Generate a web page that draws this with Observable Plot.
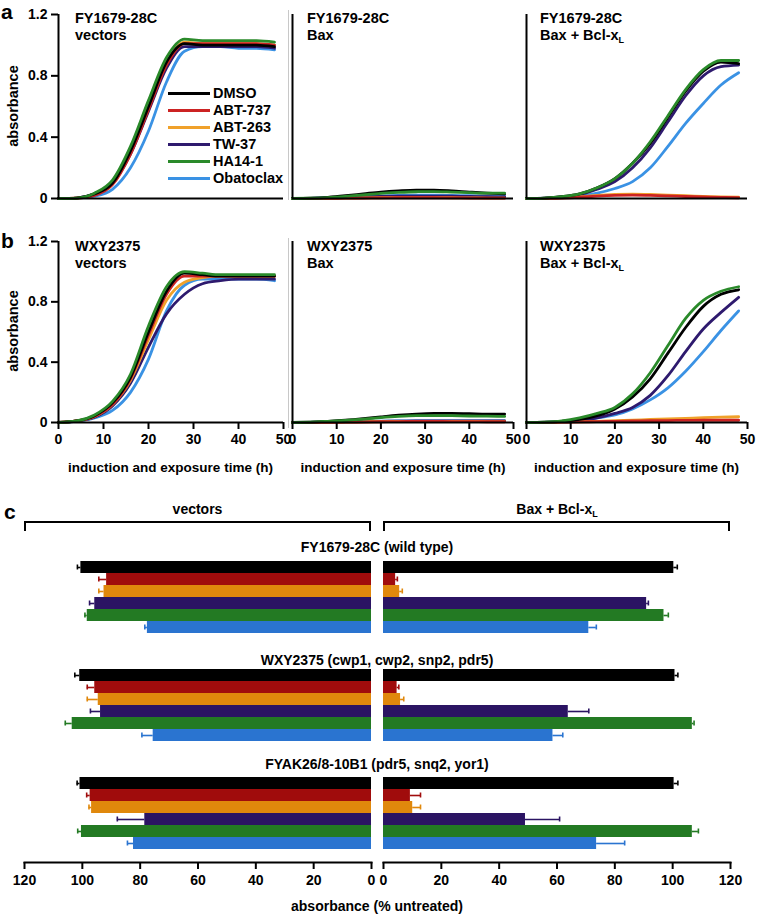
<!DOCTYPE html>
<html><head><meta charset="utf-8">
<script src="https://cdn.jsdelivr.net/npm/d3@7"></script>
<script src="https://cdn.jsdelivr.net/npm/@observablehq/plot@0.6"></script>
<style>
html,body{margin:0;padding:0;background:#fff;}
#root{position:relative;width:758px;height:917px;overflow:hidden;font-family:'Liberation Sans',Arial,Helvetica,sans-serif;font-weight:bold;color:#000;}
.t{position:absolute;white-space:nowrap;line-height:1;}
.t sub{font-size:9px;vertical-align:-3px;line-height:0;}
svg{position:absolute;}
</style></head><body><div id="root"></div>
<script>
// ---------- data ----------
const hours = [0,4,8,12,16,20,24,28,32,36,40,44,48];
const compounds = ["DMSO","ABT-737","ABT-263","TW-37","HA14-1","Obatoclax"];
const lineColors = ["#000000","#cc2323","#f0a12a","#2e1a6e","#2a8a2a","#3a92e4"];
const barColors  = ["#000000","#a00c0c","#e0880c","#2b1463","#237a23","#2a74d0"];
const drawOrder = ["Obatoclax","TW-37","ABT-263","ABT-737","DMSO","HA14-1"];

// growth curves (absorbance), rows in compounds order
const fyVectors = [
  [0,0.003,0.03,0.10,0.31,0.60,0.89,1.01,1.00,1.00,1.00,1.00,0.99],
  [0,0.002,0.02,0.09,0.29,0.58,0.87,1.01,1.01,1.01,1.01,1.01,1.00],
  [0,0.002,0.025,0.10,0.30,0.59,0.88,1.02,1.01,1.01,1.01,1.01,1.00],
  [0,0.003,0.03,0.10,0.29,0.57,0.85,0.99,0.99,0.99,0.99,0.99,0.98],
  [0,0.003,0.035,0.12,0.34,0.64,0.92,1.04,1.03,1.03,1.03,1.03,1.02],
  [0,0.002,0.015,0.06,0.20,0.44,0.76,0.96,0.99,0.99,0.98,0.98,0.97]
];
const fyBax = [
  [0,0.002,0.008,0.018,0.03,0.042,0.05,0.055,0.055,0.05,0.042,0.035,0.03],
  [0,0,0.001,0.002,0.003,0.004,0.005,0.005,0.005,0.004,0.003,0.003,0.002],
  [0,0,0.001,0.002,0.004,0.005,0.006,0.006,0.006,0.005,0.004,0.003,0.003],
  [0,0.001,0.003,0.006,0.01,0.013,0.015,0.016,0.016,0.015,0.013,0.012,0.01],
  [0,0.002,0.006,0.014,0.024,0.034,0.04,0.044,0.045,0.042,0.038,0.035,0.035],
  [0,0.001,0.004,0.008,0.013,0.017,0.02,0.022,0.022,0.02,0.018,0.016,0.015]
];
const fyBaxBcl = [
  [0,0.003,0.012,0.03,0.07,0.13,0.23,0.36,0.53,0.70,0.83,0.89,0.88],
  [0,0.001,0.003,0.008,0.015,0.02,0.022,0.02,0.017,0.013,0.01,0.007,0.005],
  [0,0.001,0.004,0.01,0.02,0.026,0.028,0.026,0.022,0.018,0.014,0.01,0.008],
  [0,0.002,0.01,0.025,0.06,0.11,0.20,0.33,0.50,0.67,0.80,0.86,0.87],
  [0,0.003,0.012,0.03,0.07,0.13,0.23,0.37,0.54,0.71,0.84,0.90,0.90],
  [0,0.001,0.005,0.015,0.035,0.065,0.11,0.20,0.34,0.49,0.62,0.74,0.82]
];
const wxyVectors = [
  [0,0.01,0.045,0.13,0.30,0.60,0.87,0.99,0.98,0.97,0.97,0.97,0.97],
  [0,0.01,0.04,0.12,0.29,0.58,0.85,0.97,0.97,0.97,0.97,0.97,0.97],
  [0,0.01,0.04,0.12,0.28,0.55,0.81,0.93,0.96,0.97,0.97,0.97,0.97],
  [0,0.01,0.035,0.11,0.26,0.50,0.72,0.85,0.92,0.94,0.95,0.95,0.95],
  [0,0.01,0.05,0.14,0.32,0.64,0.90,1.00,0.99,0.98,0.98,0.98,0.98],
  [0,0.008,0.03,0.08,0.20,0.42,0.74,0.91,0.95,0.95,0.95,0.95,0.94]
];
const wxyBax = [
  [0,0.003,0.008,0.015,0.025,0.037,0.048,0.056,0.06,0.06,0.058,0.056,0.056],
  [0,0,0.001,0.002,0.003,0.005,0.006,0.007,0.007,0.006,0.006,0.005,0.005],
  [0,0,0.001,0.002,0.004,0.006,0.007,0.008,0.008,0.007,0.007,0.006,0.006],
  [0,0.001,0.002,0.004,0.006,0.008,0.009,0.01,0.01,0.01,0.01,0.01,0.01],
  [0,0.003,0.008,0.014,0.022,0.032,0.04,0.045,0.046,0.045,0.043,0.042,0.04],
  [0,0.001,0.003,0.005,0.007,0.009,0.01,0.011,0.011,0.011,0.011,0.01,0.01]
];
const wxyBaxBcl = [
  [0,0.002,0.008,0.02,0.045,0.09,0.17,0.29,0.46,0.63,0.77,0.85,0.88],
  [0,0,0.002,0.004,0.006,0.008,0.01,0.012,0.013,0.014,0.015,0.015,0.015],
  [0,0,0.002,0.005,0.008,0.012,0.016,0.02,0.024,0.028,0.032,0.035,0.038],
  [0,0.001,0.004,0.01,0.03,0.06,0.10,0.18,0.31,0.47,0.62,0.73,0.83],
  [0,0.002,0.01,0.03,0.06,0.10,0.19,0.33,0.51,0.69,0.81,0.87,0.90],
  [0,0.001,0.004,0.01,0.03,0.05,0.09,0.15,0.23,0.34,0.47,0.61,0.74]
];
const yTicks = [0,0.4,0.8,1.2];
const xTicks = [0,10,20,30,40,50];

// bar chart (% untreated)
const groups = ["FY1679-28C (wild type)","WXY2375 (cwp1, cwp2, snp2, pdr5)","FYAK26/8-10B1 (pdr5, snq2, yor1)"];
const vectorsMean = [
  [100.5,91.6,92.5,95.7,98.3,77.5],
  [100.9,95.7,94.5,93.7,103.5,75.5],
  [100.8,97.3,96.8,78.4,100.3,82.3]
];
const vectorsErr = [
  [1.2,2.7,1.8,1.8,0.8,0.9],
  [1.7,2.6,3.8,3.5,2.4,3.9],
  [1.0,1.2,0.9,9.5,1.3,2.1]
];
const baxBclMean = [
  [100.4,4.2,5.6,91.0,97.0,71.0],
  [100.8,4.7,5.9,63.9,106.8,58.6],
  [100.5,9.3,10.1,49.1,106.8,73.7]
];
const baxBclErr = [
  [1.2,0.6,0.9,0.6,1.5,2.6],
  [1.0,0.6,1.1,7.1,0.6,3.4],
  [1.3,3.5,2.7,11.8,2.1,9.7]
];
const barTicks = [0,20,40,60,80,100,120];

// ---------- helpers ----------
const root = document.getElementById("root");
const FONT = "'Liberation Sans', Arial, Helvetica, sans-serif";
function put(node, left, top) {
  node.style.position = "absolute";
  node.style.left = left + "px";
  node.style.top = top + "px";
  root.appendChild(node);
}
function text(html, x, y, size, anchor = "start", rotate = 0) {
  const d = document.createElement("div");
  d.className = "t";
  d.innerHTML = html;
  d.style.fontSize = size + "px";
  d.style.left = x + "px";
  d.style.top = y + "px";
  const tx = anchor === "middle" ? "-50%" : anchor === "end" ? "-100%" : "0";
  d.style.transform = `translate(${tx},-50%)` + (rotate ? ` rotate(${rotate}deg)` : "");
  if (rotate) d.style.transformOrigin = "50% 50%";
  root.appendChild(d);
  return d;
}
function box(left, top, w, h, css) {
  const d = document.createElement("div");
  d.style.cssText = `position:absolute;left:${left}px;top:${top}px;width:${w}px;height:${h}px;box-sizing:border-box;` + css;
  root.appendChild(d);
}

// ---------- growth curve panels ----------
function curvePanel(vals, x0, x1, yt, yb, showY, showX) {
  const rows = [];
  drawOrder.forEach(c => {
    const i = compounds.indexOf(c);
    vals[i].forEach((v, j) => rows.push({t: hours[j], v, compound: c}));
  });
  const mL = 50, mR = 12, mT = 6, mB = 34;
  const marks = [
    Plot.line(rows, {x: "t", y: "v", stroke: "compound", curve: "monotone-x", strokeWidth: 2.8}),
    Plot.ruleX([0], {strokeWidth: 2}),
    Plot.ruleY([0], {strokeWidth: 2})
  ];
  if (showY) marks.push(Plot.axisY({ticks: yTicks, tickSize: 7, tickPadding: 4, strokeWidth: 2, label: null,
    tickFormat: d => d === 0 ? "0" : d.toFixed(1)}));
  if (showX) marks.push(Plot.axisX({ticks: xTicks, tickSize: 7, tickPadding: 5, strokeWidth: 2, label: null}));
  const svg = Plot.plot({
    width: x1 - x0 + mL + mR, height: yb - yt + mT + mB,
    marginLeft: mL, marginRight: mR, marginTop: mT, marginBottom: mB,
    x: {domain: [0, 50], ...(showX ? {} : {axis: null})},
    y: {domain: [0, 1.2], ...(showY ? {} : {axis: null})},
    color: {domain: compounds, range: lineColors},
    style: {fontFamily: FONT, fontSize: "14px", fontWeight: "bold", color: "#000", background: "transparent", overflow: "visible"},
    marks
  });
  put(svg, x0 - mL, yt - mT);
}

const colX = [[58, 283], [292, 513], [526, 747]];
curvePanel(fyVectors, colX[0][0], colX[0][1], 14, 198, true, false);
curvePanel(fyBax, colX[1][0], colX[1][1], 14, 198, false, false);
curvePanel(fyBaxBcl, colX[2][0], colX[2][1], 14, 198, false, false);
curvePanel(wxyVectors, colX[0][0], colX[0][1], 241, 422, true, true);
curvePanel(wxyBax, colX[1][0], colX[1][1], 241, 422, false, true);
curvePanel(wxyBaxBcl, colX[2][0], colX[2][1], 241, 422, false, true);

// faint separators as in the source figure
box(288, 10, 1, 190, "background:#c8c8c8;");
box(288, 238, 1, 190, "background:#c8c8c8;");

// panel titles
const bclx = "Bax + Bcl-x<sub>L</sub>";
[["FY1679-28C", 18, 35], ["WXY2375", 246, 263]].forEach(([strain, y1, y2]) => {
  text(strain, 75, y1, 14.5); text("vectors", 75, y2, 14.5);
  text(strain, 307, y1, 14.5); text("Bax", 307, y2, 14.5);
  text(strain, 540, y1, 14.5); text(bclx, 540, y2, 14.5);
});
text("a", 1, 11, 21); text("b", 1, 240, 21); text("c", 4, 511, 21);
text("absorbance", 13, 106, 14.5, "middle", -90);
text("absorbance", 13, 331, 14.5, "middle", -90);
[170.5, 403, 636.5].forEach(cx => text("induction and exposure time (h)", cx, 468, 13.5, "middle"));

// legend
compounds.forEach((c, i) => {
  const cy = 93 + i * 17;
  box(168, cy - 1.5, 42, 3, `background:${lineColors[i]};`);
  text(c, 213, cy, 14.5);
});

// ---------- bar chart ----------
function barPanel(means, errs, left, width, mL, mR, reverse) {
  const rows = [];
  groups.forEach((g, gi) => compounds.forEach((c, ci) =>
    rows.push({group: g, compound: c, value: means[gi][ci], err: errs[gi][ci]})));
  const top = 550, mT = 7, mB = 35, height = 862 - top + mB;
  const svg = Plot.plot({
    width, height, marginLeft: mL, marginRight: mR, marginTop: mT, marginBottom: mB,
    x: {domain: [0, 120], reverse},
    y: {domain: compounds, padding: 0, insetBottom: 11, axis: null},
    fy: {domain: groups, paddingInner: 0.189, paddingOuter: 0, axis: null},
    color: {domain: compounds, range: barColors},
    style: {fontFamily: FONT, fontSize: "14px", fontWeight: "bold", color: "#000", background: "transparent", overflow: "visible"},
    marks: [
      Plot.barX(rows, {x: "value", y: "compound", fy: "group", fill: "compound"}),
      Plot.ruleY(rows, {x1: "value", x2: d => d.value + d.err, y: "compound", fy: "group", stroke: "compound", strokeWidth: 1.6}),
      Plot.tickX(rows, {x: d => d.value + d.err, y: "compound", fy: "group", stroke: "compound", strokeWidth: 1.6, insetTop: 3.5, insetBottom: 3.5}),
      Plot.axisX({ticks: barTicks, tickSize: 7, tickPadding: 6, strokeWidth: 2, label: null}),
      Plot.frame({anchor: "bottom", facetAnchor: "bottom", strokeWidth: 2})
    ]
  });
  put(svg, left, top);
}
barPanel(vectorsMean, vectorsErr, 0, 380, 24, 9, true);
barPanel(baxBclMean, baxBclErr, 375, 383, 8, 28, false);

// brackets
box(24, 521, 347, 10, "border:2px solid #000;border-bottom:none;");
box(383, 521, 347, 10, "border:2px solid #000;border-bottom:none;");
text("vectors", 197.5, 509, 14, "middle");
text(bclx, 557, 509, 14, "middle");
// group titles
[547, 660, 764].forEach((y, i) => text(groups[i], 377, y, 14, "middle"));
text("absorbance (% untreated)", 377, 906, 14, "middle");
</script></body></html>
